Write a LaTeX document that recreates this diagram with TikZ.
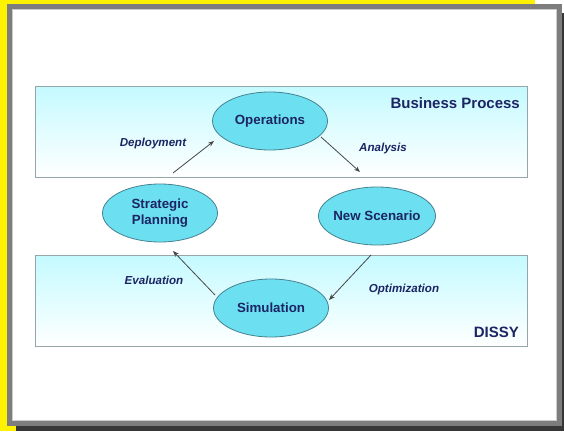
\documentclass[tikz,border=0pt]{standalone}
\usepackage{fontspec}
\setmainfont{Liberation Sans}
\usetikzlibrary{shapes.geometric,arrows.meta,calc}
\definecolor{txt}{RGB}{28,36,100}
\definecolor{ellfill}{RGB}{108,224,240}
\definecolor{elldraw}{RGB}{70,130,145}
\definecolor{bandtop}{RGB}{196,250,255}
\definecolor{banddraw}{RGB}{150,165,168}
\definecolor{framegray}{RGB}{125,125,125}
\definecolor{shadowgray}{RGB}{55,55,55}
\definecolor{linegray}{RGB}{70,70,70}
\tikzset{
  ell/.style={ellipse, draw=elldraw, line width=0.8pt, fill=ellfill, minimum width=115pt, minimum height=58pt, inner sep=0pt, font=\fontsize{13.3}{16}\selectfont\bfseries, text=txt, align=center},
  band/.style={draw=banddraw, line width=1pt, top color=bandtop, bottom color=white},
  lbl/.style={font=\fontsize{11.6}{13}\selectfont\bfseries\itshape, text=txt, inner sep=0pt},
  title/.style={font=\fontsize{15}{17}\selectfont\bfseries, text=txt, inner sep=0pt},
  arr/.style={draw=linegray, line width=0.8pt, -{Stealth[length=6pt,width=4.5pt]}}
}
\begin{document}
\begin{tikzpicture}[x=1pt,y=-1pt]
\useasboundingbox (0,0) rectangle (564,431);
% background / frame
\fill[yellow] (0,0) rectangle (535,431);
\fill[white] (535,0) rectangle (564,431);
\fill[shadowgray] (16,13) rectangle (564,431);
\fill[framegray] (7,4) rectangle (562,426);
\fill[white] (12,9) rectangle (557,421);
\draw[gray!40, line width=0.6pt] (12.3,9.3) rectangle (556.7,420.7);
% bands
\node[band, minimum width=492pt, minimum height=91pt, inner sep=0pt] (bp) at (281,131.5) {};
\node[band, minimum width=492pt, minimum height=91pt, inner sep=0pt] (dissy) at (281,300.5) {};
\node[title, anchor=east] (bpt) at (520,103) {Business Process};
\node[title, anchor=east] (dt) at (519,332) {DISSY};
% ellipses
\node[ell] (op) at (270,121) {Operations};
\node[ell] (sp) at (160,213) {Strategic\\Planning};
\node[ell, minimum width=117pt, inner xsep=-6pt] (ns) at (377,216) {New Scenario};
\node[ell] (sim) at (271,308) {Simulation};
% connectors
\draw[arr] ([shift={(13,-40)}]sp.center) -- ([shift={(-56,20)}]op.center);
\draw[arr] ([shift={(51,16)}]op.center) -- ([shift={(-17,-44)}]ns.center);
\draw[arr] ([shift={(-6,39)}]ns.center) -- ([shift={(58,-8)}]sim.center);
\draw[arr] ([shift={(-56,-13)}]sim.center) -- ([shift={(13,38)}]sp.center);
% labels
\node[lbl] (l1) at (153,143) {Deployment};
\node[lbl] (l2) at (383,148) {Analysis};
\node[lbl] (l3) at (154,280) {Evaluation};
\node[lbl] (l4) at (404,289) {Optimization};
\end{tikzpicture}
\end{document}
